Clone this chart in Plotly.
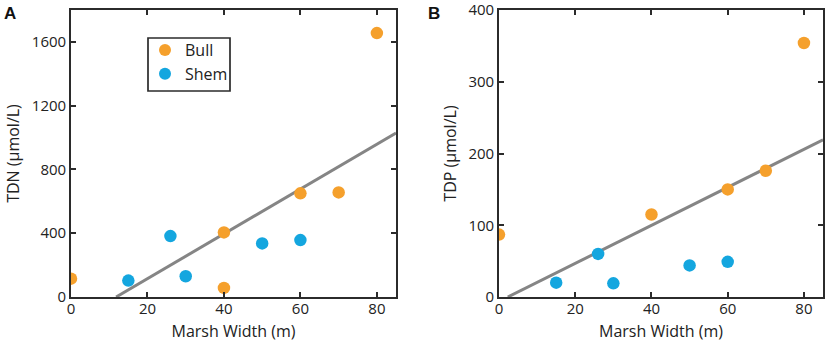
import plotly.graph_objects as go

# Panel A: TDN
bull_x_a = [0, 40, 40, 60, 70, 80]
bull_y_a = [115, 405, 57, 650, 656, 1655]
shem_x_a = [15, 26, 30, 50, 60]
shem_y_a = [103, 382, 130, 336, 357]
fit_x_a = [11.8, 85]
fit_y_a = [0, 1028]

# Panel B: TDP
bull_x_b = [0, 40, 60, 70, 80]
bull_y_b = [87, 115, 150, 176, 354]
shem_x_b = [15, 26, 30, 50, 60]
shem_y_b = [20, 60, 19, 44, 49]
fit_x_b = [2.3, 85]
fit_y_b = [0, 219]

x_ticks = [0, 20, 40, 60, 80]
y_ticks_a = [0, 400, 800, 1200, 1600]
y_ticks_b = [0, 100, 200, 300, 400]

ORANGE = "#F5A02C"
BLUE = "#14A6DF"
GRAY = "#858585"
FONT = "Open Sans"

fig = go.Figure()
mk = dict(size=12.5)
fig.add_trace(go.Scatter(x=fit_x_a, y=fit_y_a, mode="lines", line=dict(color=GRAY, width=3),
                         showlegend=False, xaxis="x", yaxis="y"))
fig.add_trace(go.Scatter(x=bull_x_a, y=bull_y_a, mode="markers", name="Bull",
                         marker=dict(color=ORANGE, **mk), xaxis="x", yaxis="y"))
fig.add_trace(go.Scatter(x=shem_x_a, y=shem_y_a, mode="markers", name="Shem",
                         marker=dict(color=BLUE, **mk), xaxis="x", yaxis="y"))
fig.add_trace(go.Scatter(x=fit_x_b, y=fit_y_b, mode="lines", line=dict(color=GRAY, width=3),
                         showlegend=False, xaxis="x2", yaxis="y2"))
fig.add_trace(go.Scatter(x=bull_x_b, y=bull_y_b, mode="markers", name="Bull", showlegend=False,
                         marker=dict(color=ORANGE, **mk), xaxis="x2", yaxis="y2"))
fig.add_trace(go.Scatter(x=shem_x_b, y=shem_y_b, mode="markers", name="Shem", showlegend=False,
                         marker=dict(color=BLUE, **mk), xaxis="x2", yaxis="y2"))

W, H = 829, 352
ydom = [1 - 297 / H, 1 - 10 / H]
axis_common = dict(showline=True, linecolor="#2b2b2b", linewidth=1.7, mirror="allticks",
                   ticks="inside", ticklen=5, tickcolor="#2b2b2b", tickwidth=1.5,
                   showgrid=False, zeroline=False, automargin=False,
                   ticklabeloverflow="allow",
                   tickfont=dict(family=FONT, size=15, color="#222"))

fig.update_layout(
    width=W, height=H,
    margin=dict(l=0, r=0, t=0, b=0),
    paper_bgcolor="white", plot_bgcolor="white",
    font=dict(family=FONT, color="#222"),
    xaxis=dict(domain=[71 / W, 396 / W], range=[0, 85], tickvals=x_ticks, anchor="y",
               ticklabelstandoff=-3,
               title=dict(text="Marsh Width (m)", font=dict(size=16), standoff=9), **axis_common),
    yaxis=dict(domain=ydom, range=[0, 1800], tickvals=y_ticks_a, anchor="x",
               title=dict(text="TDN (µmol/L)", font=dict(size=16), standoff=8), **axis_common),
    xaxis2=dict(domain=[499 / W, 823 / W], range=[0, 85], tickvals=x_ticks, anchor="y2",
                ticklabelstandoff=-3,
                title=dict(text="Marsh Width (m)", font=dict(size=16), standoff=9), **axis_common),
    yaxis2=dict(domain=ydom, range=[0, 400], tickvals=y_ticks_b, anchor="x2",
                title=dict(text="TDP (µmol/L)", font=dict(size=16), standoff=8), **axis_common),
    legend=dict(x=145 / W, y=1 - 33 / H, xanchor="left", yanchor="top",
                borderwidth=0, bgcolor="rgba(0,0,0,0)",
                font=dict(family=FONT, size=16, color="#222"),
                itemsizing="constant", itemwidth=30),
    shapes=[
        dict(type="rect", xref="paper", yref="paper",
             x0=148 / W, x1=230 / W, y0=1 - 91 / H, y1=1 - 38 / H,
             line=dict(color="#2b2b2b", width=1.7), fillcolor="white", layer="below"),
    ],
    annotations=[
        dict(text="<b>A</b>", x=2 / W, y=1 - 2 / H, xref="paper", yref="paper",
             xanchor="left", yanchor="top", showarrow=False,
             font=dict(family="Liberation Sans", size=17, color="#111")),
        dict(text="<b>B</b>", x=426 / W, y=1 - 2 / H, xref="paper", yref="paper",
             xanchor="left", yanchor="top", showarrow=False,
             font=dict(family="Liberation Sans", size=17, color="#111")),
    ],
)

fig.write_html("out.html", config={"displayModeBar": False},
               post_script="document.body.style.margin='0';document.body.style.overflow='hidden';")
